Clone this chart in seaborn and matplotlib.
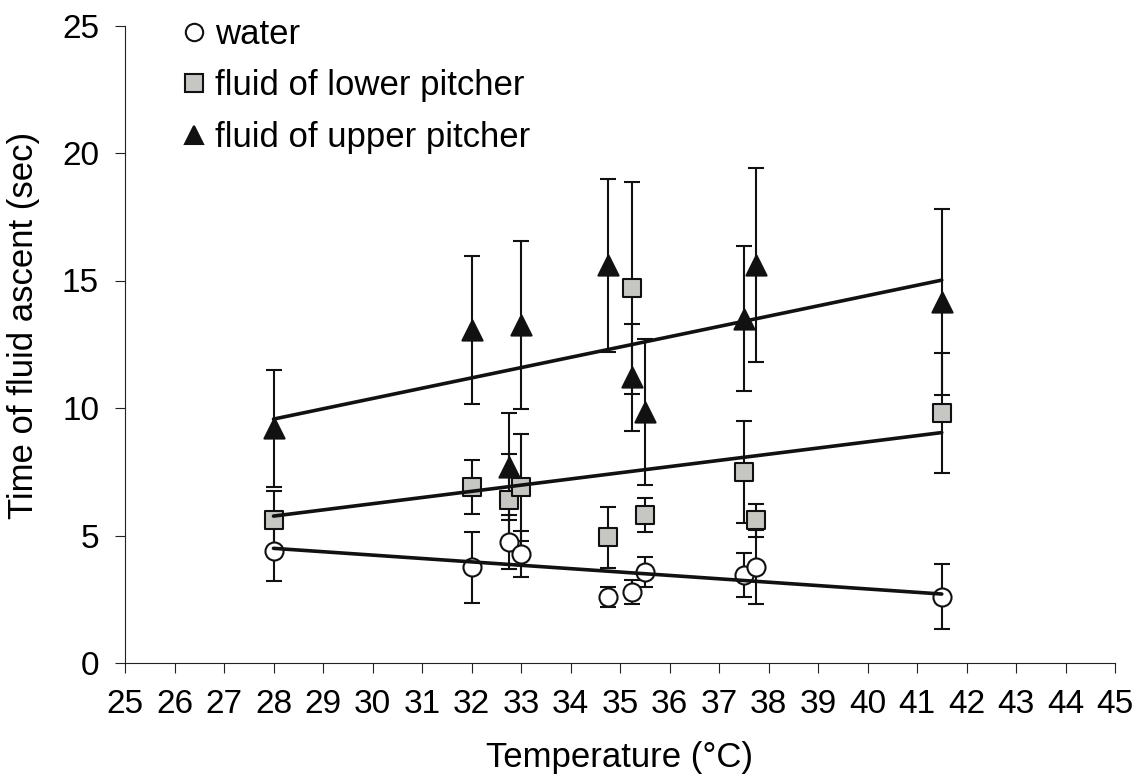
import pandas as pd
import matplotlib.pyplot as plt
import seaborn as sns
from matplotlib.lines import Line2D

# Temperaturas medidas
temps = [28, 32, 32.75, 33, 34.75, 35.25, 35.5, 37.5, 37.75, 41.5]

# Medias y errores
water_mean = [4.4, 3.75, 4.74, 4.27, 2.6, 2.8, 3.56, 3.45, 3.77, 2.6]
water_err = [1.2, 1.4, 1.06, 0.9, 0.4, 0.47, 0.58, 0.88, 1.45, 1.27]
lower_mean = [5.6, 6.9, 6.4, 6.9, 4.93, 14.7, 5.8, 7.48, 5.6, 9.8]
lower_err = [1.15, 1.05, 1.8, 2.1, 1.2, 4.15, 0.67, 2.0, 0.65, 2.35]
upper_mean = [9.2, 13.05, 7.7, 13.25, 15.6, 11.2, 9.85, 13.5, 15.6, 14.15]
upper_err = [2.3, 2.9, 2.1, 3.3, 3.4, 2.1, 2.85, 2.85, 3.8, 3.65]

series_names = ["water", "fluid of lower pitcher", "fluid of upper pitcher"]
x_ticks = list(range(25, 46))
y_ticks = [0, 5, 10, 15, 20, 25]

sns.set_style("ticks")
plt.rcParams['font.family'] = ['Liberation Sans', 'DejaVu Sans']
plt.rcParams['text.color'] = 'black'
plt.rcParams['axes.labelcolor'] = 'black'
plt.rcParams['xtick.color'] = 'black'
plt.rcParams['ytick.color'] = 'black'

ink = '#111111'
styles = {
    "water": dict(marker='o', face='white', s=169),
    "fluid of lower pitcher": dict(marker='s', face='#c6c6c2', s=169),
    "fluid of upper pitcher": dict(marker='^', face=ink, s=210),
}

frames = []
for name, m, e in zip(series_names, [water_mean, lower_mean, upper_mean],
                      [water_err, lower_err, upper_err]):
    frames.append(pd.DataFrame({'Temp': temps, 'Time': m, 'Err': e, 'Serie': name}))
data = pd.concat(frames, ignore_index=True)

fig = plt.figure(figsize=(11.38, 7.83), dpi=100)
ax = fig.add_axes([125 / 1138, 1 - 663 / 783, 990 / 1138, (663 - 25.5) / 783])

for name in series_names:
    d = data[data['Serie'] == name]
    st = styles[name]
    ax.errorbar(d['Temp'], d['Time'], yerr=d['Err'], fmt='none', ecolor=ink,
                elinewidth=1.5, capsize=6, capthick=1.5, zorder=2)
    sns.scatterplot(x='Temp', y='Time', data=d, marker=st['marker'], s=st['s'],
                    color=st['face'], edgecolor=ink, linewidth=1.5, zorder=3, ax=ax)
    sns.regplot(x='Temp', y='Time', data=d, scatter=False, ci=None,
                line_kws=dict(color=ink, linewidth=2.6, zorder=4), ax=ax)

ax.set_xlim(25, 45)
ax.set_ylim(0, 25)
ax.set_xticks(x_ticks)
ax.set_yticks(y_ticks)
ax.tick_params(axis='x', length=7.5, width=0.8, pad=11, labelsize=24, color='#222222')
ax.tick_params(axis='y', length=7.2, width=0.8, pad=11.5, labelsize=24, color='#222222')
for sp in ['top', 'right']:
    ax.spines[sp].set_visible(False)
for sp in ['left', 'bottom']:
    ax.spines[sp].set_linewidth(0.8)
    ax.spines[sp].set_color('#222222')

ax.set_xlabel('Temperature (°C)', fontsize=25)
ax.set_ylabel('Time of fluid ascent (sec)', fontsize=25)
ax.xaxis.set_label_coords(0.5, -0.122)
ax.yaxis.set_label_coords(-0.086, 0.529)

handles = [Line2D([], [], linestyle='none', marker=styles[n]['marker'],
                  markerfacecolor=styles[n]['face'], markeredgecolor=ink,
                  markeredgewidth=1.5, markersize=12.5) for n in series_names]
ax.legend(handles, series_names, loc='upper left', bbox_to_anchor=(184 / 1138, 1 - 18 / 783),
          bbox_transform=fig.transFigure, frameon=False, fontsize=25,
          handlelength=0.6, handletextpad=0.3, labelspacing=0.53, borderpad=0, borderaxespad=0)

fig.savefig('out.png', dpi=100)
